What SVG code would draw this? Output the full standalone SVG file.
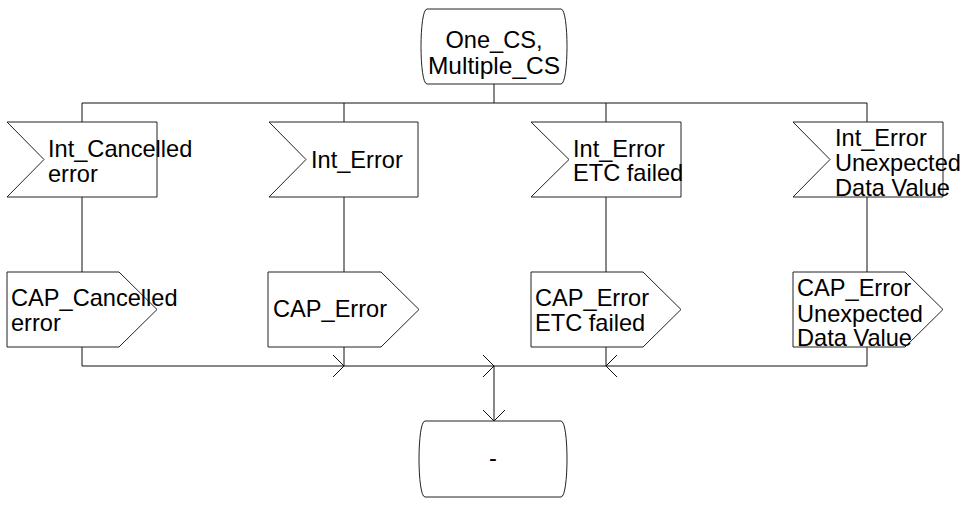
<svg xmlns="http://www.w3.org/2000/svg" width="969" height="506" viewBox="0 0 969 506">
<style>
.s{fill:#fff;stroke:#222;stroke-width:1}
.l{fill:none;stroke:#111;stroke-width:1}
.a{fill:none;stroke:#111;stroke-width:1}
text{font-family:"Liberation Sans",Arial,sans-serif;font-size:23.6px;fill:#000}
</style>
<rect width="969" height="506" fill="#fff"/>
<g id="connectors">
<polyline class="l" points="494,84 494,103"/>
<polyline class="l" points="82,122 82,103 867,103 867,122"/>
<polyline class="l" points="344,103 344,122"/>
<polyline class="l" points="606,103 606,122"/>
<polyline class="l" points="82,197 82,272"/>
<polyline class="l" points="344,197 344,272"/>
<polyline class="l" points="606,197 606,272"/>
<polyline class="l" points="867,197 867,272"/>
<polyline class="l" points="82,347 82,366 867,366 867,347"/>
<polyline class="l" points="344,347 344,366"/>
<polyline class="l" points="606,347 606,366"/>
<polyline class="l" points="494,366 494,421"/>
<polyline class="a" points="333,355 344,366 333,377"/>
<polyline class="a" points="483,355 494,366 483,377"/>
<polyline class="a" points="617,355 606,366 617,377"/>
<polyline class="a" points="483,410 494,421 505,410"/>
</g>
<g id="start">
<path class="s" d="M427,9 H561 C569,9 569,84 561,84 H427 C419,84 419,9 427,9 Z"/>
<text x="494" y="48" text-anchor="middle">One_CS,</text>
<text x="494" y="74" text-anchor="middle" style="font-size:24.5px">Multiple_CS</text>
</g>
<g id="in1">
<polygon class="s" points="7,122 157,122 157,197 7,197 44,159.5"/>
<text x="48" y="157">Int_Cancelled</text>
<text x="48" y="182">error</text>
</g>
<g id="in2">
<polygon class="s" points="269,122 418,122 418,197 269,197 306,159.5"/>
<text x="311" y="168">Int_Error</text>
</g>
<g id="in3">
<polygon class="s" points="531,122 681,122 681,197 531,197 569,159.5"/>
<text x="573" y="157">Int_Error</text>
<text x="573" y="181">ETC failed</text>
</g>
<g id="in4">
<polygon class="s" points="793,122 943,122 943,197 793,197 830,159.5"/>
<text x="835" y="146">Int_Error</text>
<text x="835" y="171">Unexpected</text>
<text x="835" y="196">Data Value</text>
</g>
<g id="out1">
<polygon class="s" points="7,272 119,272 157,309.5 119,347 7,347"/>
<text x="11" y="306">CAP_Cancelled</text>
<text x="11" y="331">error</text>
</g>
<g id="out2">
<polygon class="s" points="268,272 381,272 419,309.5 381,347 268,347"/>
<text x="273" y="317">CAP_Error</text>
</g>
<g id="out3">
<polygon class="s" points="531,272 643,272 681,309.5 643,347 531,347"/>
<text x="535" y="306">CAP_Error</text>
<text x="535" y="331">ETC failed</text>
</g>
<g id="out4">
<polygon class="s" points="793,272 905,272 943,309.5 905,347 793,347"/>
<text x="797" y="296">CAP_Error</text>
<text x="797" y="322">Unexpected</text>
<text x="797" y="346">Data Value</text>
</g>
<g id="end">
<path class="s" d="M425,421 H561 C569,421 569,497 561,497 H425 C417,497 417,421 425,421 Z"/>
<text x="493" y="466" text-anchor="middle">-</text>
</g>
</svg>
